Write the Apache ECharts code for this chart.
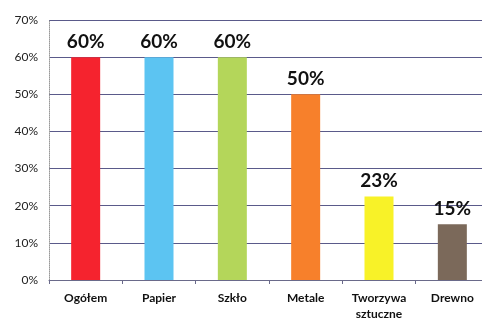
<!DOCTYPE html>
<html>
<head>
<meta charset="utf-8">
<script src="https://cdn.jsdelivr.net/npm/echarts@6/dist/echarts.min.js"></script>
<style>
    html, body { margin: 0; padding: 0; background: #fff; }
    #chart { width: 482px; height: 318px; }
</style>
</head>
<body>
<div id="chart"></div>
<script>
// dane
var categories = ['Ogółem', 'Papier', 'Szkło', 'Metale', 'Tworzywa\nsztuczne', 'Drewno'];
var values = [60, 60, 60, 50, 22.5, 15];
var valueLabels = ['60%', '60%', '60%', '50%', '23%', '15%'];
var barColors = ['#f5232e', '#5cc4f2', '#b4d65a', '#f7802b', '#f8f228', '#7b695a'];
var yTicks = [0, 10, 20, 30, 40, 50, 60, 70];

var font = 'Lato, "Open Sans", sans-serif';

var chart = echarts.init(document.getElementById('chart'));
chart.setOption({
    animation: false,
    grid: {
        left: 49, top: 20, width: 440, height: 260,
        containLabel: false, outerBoundsMode: 'none'
    },
    xAxis: {
        type: 'category',
        data: categories,
        axisLine: { lineStyle: { color: '#6a6a8a', width: 1 } },
        axisTick: { show: true, length: 4, lineStyle: { color: '#6a6a8a' } },
        axisLabel: {
            color: '#111', fontFamily: font, fontWeight: 'bold', fontSize: 12,
            margin: 10, lineHeight: 16
        }
    },
    yAxis: {
        type: 'value',
        min: 0, max: 70, interval: 10,
        axisLine: { show: true, lineStyle: { color: '#999', type: 'dotted' } },
        axisTick: { show: false },
        axisLabel: {
            color: '#222', fontFamily: font, fontSize: 12, margin: 11,
            formatter: function (v) { return yTicks.indexOf(v) >= 0 ? v + '%' : ''; }
        },
        splitLine: { lineStyle: { color: '#5a5a8a', width: 1 } }
    },
    series: [{
        type: 'bar',
        barWidth: 29,
        data: values.map(function (v, i) {
            return { value: v, itemStyle: { color: barColors[i] } };
        }),
        label: {
            show: true, position: 'top', distance: 6,
            fontFamily: font, fontWeight: 'bold', fontSize: 19, color: '#111',
            formatter: function (p) { return valueLabels[p.dataIndex]; }
        }
    }]
});
</script>
</body>
</html>
